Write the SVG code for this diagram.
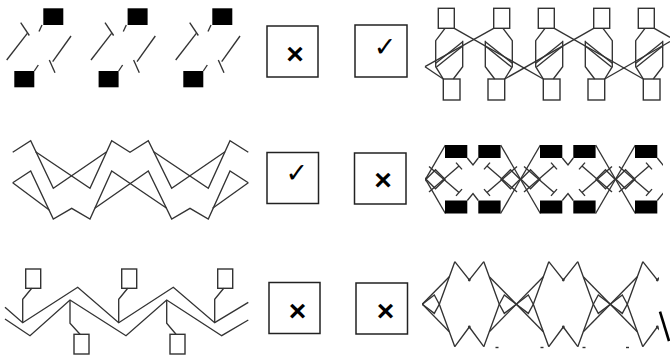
<svg xmlns="http://www.w3.org/2000/svg" xmlns:xlink="http://www.w3.org/1999/xlink" width="670" height="356" viewBox="0 0 670 356">
<style>
.ln{fill:none;stroke:#333;stroke-width:1.35;stroke-linejoin:miter}
.blk{fill:#000}
.sq{fill:#fff;stroke:#333;stroke-width:1.4}
.box{fill:#fff;stroke:#222;stroke-width:1.5}
.x{font-family:"Liberation Sans",Arial,sans-serif;font-weight:bold;font-size:30px;text-anchor:middle;fill:#000}
.ck{font-family:"DejaVu Sans",sans-serif;font-size:27px;text-anchor:middle;fill:#000}
</style>
<defs>
<clipPath id="cpMid"><rect x="425" y="130" width="238" height="100"/></clipPath>
<clipPath id="cpBot"><rect x="422" y="250" width="237" height="106"/></clipPath>
<g id="tlUnit">
<rect class="blk" x="43.3" y="8.3" width="20" height="16.7"/>
<rect class="blk" x="14.3" y="71" width="20" height="16.3"/>
<line class="ln" x1="42" y1="25" x2="39" y2="31.5"/>
<line class="ln" x1="34.3" y1="71" x2="38.3" y2="65"/>
<line class="ln" x1="6.7" y1="60" x2="27.3" y2="33.3"/>
<line class="ln" x1="20.7" y1="22.7" x2="29.3" y2="35.5"/>
<line class="ln" x1="71" y1="36" x2="52.7" y2="61.7"/>
<line class="ln" x1="49.3" y1="60" x2="55" y2="72.7"/>
</g>
<g id="trUnit">
<rect class="sq" x="438.3" y="8.3" width="16" height="20"/>
<rect class="sq" x="443.3" y="79" width="16.7" height="21"/>
<polyline class="ln" points="445,28.3 435.7,40.7 435.7,66.7 443.3,79"/>
<polyline class="ln" points="462.7,40.7 462.7,66.7 453.3,79"/>
<line class="ln" x1="435.7" y1="63.3" x2="462.7" y2="41.7"/>
<line class="ln" x1="436.5" y1="67" x2="462.7" y2="46"/>
</g>
<g id="midPair">
<rect class="blk" x="-28" y="145" width="22.3" height="13"/>
<rect class="blk" x="5.3" y="145" width="22.3" height="13"/>
<rect class="blk" x="-28" y="200.5" width="22.3" height="13"/>
<rect class="blk" x="5.3" y="200.5" width="22.3" height="13"/>
<polyline class="ln" points="-5.7,158 0,165 5.3,158"/>
<polyline class="ln" points="-5.7,200.5 0,193.5 5.3,200.5"/>
<line class="ln" x1="27.6" y1="145" x2="67.4" y2="213.5"/>
<line class="ln" x1="27.6" y1="213.5" x2="67.4" y2="145"/>
<polygon class="ln" points="-47,179.25 -37.5,169.75 -28,179.25 -37.5,188.75"/>
<polygon class="ln" points="47,179.25 37.5,169.75 28,179.25 37.5,188.75"/>
<line class="ln" x1="-14" y1="166" x2="-44" y2="192"/>
<line class="ln" x1="-14" y1="192.5" x2="-44" y2="166.5"/>
<line class="ln" x1="-17" y1="162.6" x2="-11" y2="169.4"/>
<line class="ln" x1="-17" y1="195.9" x2="-11" y2="189.1"/>
<line class="ln" x1="14" y1="166" x2="44" y2="192"/>
<line class="ln" x1="14" y1="192.5" x2="44" y2="166.5"/>
<line class="ln" x1="17" y1="162.6" x2="11" y2="169.4"/>
<line class="ln" x1="17" y1="195.9" x2="11" y2="189.1"/>
</g>
<g id="botUnit">
<polyline class="ln" points="-14.5,261.7 0,280 14.5,261.7"/>
<polyline class="ln" points="-14.5,346.7 0,327 14.5,346.7"/>
<polyline class="ln" points="14.5,261.7 30,304.2 14.5,346.7"/>
<polyline class="ln" points="-14.5,261.7 -30,304.2 -14.5,346.7"/>
<line class="ln" x1="20" y1="276.7" x2="74" y2="331.7"/>
<line class="ln" x1="20" y1="331.7" x2="74" y2="276.7"/>
<polygon class="ln" points="30,304.2 35,295 47,304.2 35,313.4"/>
<polygon class="ln" points="-30,304.2 -35,295 -47,304.2 -35,313.4"/>
<circle cx="0" cy="280" r="1.4" fill="#333"/>
<circle cx="0" cy="327" r="1.4" fill="#333"/>
</g>
</defs>

<g id="panel-top-left">
<use xlink:href="#tlUnit"/>
<use xlink:href="#tlUnit" transform="translate(84.3,0)"/>
<use xlink:href="#tlUnit" transform="translate(169,0)"/>
</g>

<g id="panel-top-right">
<use xlink:href="#trUnit"/>
<use xlink:href="#trUnit" transform="translate(948,0) scale(-1,1)"/>
<use xlink:href="#trUnit" transform="translate(100,0)"/>
<use xlink:href="#trUnit" transform="translate(1048,0) scale(-1,1)"/>
<use xlink:href="#trUnit" transform="translate(200,0)"/>
</g>

<g id="connectors">
<line class="ln" x1="425" y1="66.7" x2="493.7" y2="28.3"/>
<line class="ln" x1="425" y1="66.7" x2="443.3" y2="79"/>
<line class="ln" x1="454.3" y1="28.3" x2="543.3" y2="79"/>
<line class="ln" x1="504.7" y1="79" x2="593.7" y2="28.3"/>
<line class="ln" x1="554.3" y1="28.3" x2="643.3" y2="79"/>
<line class="ln" x1="604.7" y1="79" x2="670" y2="41.5"/>
<line class="ln" x1="654.3" y1="28.3" x2="670" y2="37.3"/>
</g>

<g id="panel-mid-left">
<path class="ln" d="M12.7,152.3 L30.7,140.7 L53.3,188.3 L106.7,151.7"/>
<path class="ln" d="M35.6,151.7 L90,188.3 L111.7,140.7 L130,152.3 L148.3,140.7 L171.7,188.3 L225,151.7"/>
<path class="ln" d="M153.7,151.7 L208.3,188.3 L230,140.7 L248.3,152.3"/>
<path class="ln" d="M12.7,182.7 L30.7,171 L53.3,219 L71.7,208.3 L90,219 L111.7,171 L166.7,208.3"/>
<path class="ln" d="M12.7,182.7 L49.2,210"/>
<path class="ln" d="M94.8,208.3 L148.3,171 L171.7,219 L190,208.3 L208.3,219 L230,171 L248.3,182.7"/>
<path class="ln" d="M212.6,208.3 L248.3,182.7"/>
</g>

<g id="panel-mid-right" clip-path="url(#cpMid)">
<use xlink:href="#midPair" transform="translate(378,0)"/>
<use xlink:href="#midPair" transform="translate(473,0)"/>
<use xlink:href="#midPair" transform="translate(568,0)"/>
<use xlink:href="#midPair" transform="translate(663,0)"/>
</g>

<g id="panel-bot-left">
<rect class="sq" x="25.7" y="269" width="15" height="19.3"/>
<rect class="sq" x="121.7" y="269" width="15" height="19.3"/>
<rect class="sq" x="217.7" y="269" width="15" height="19.3"/>
<rect class="sq" x="74" y="334.3" width="15" height="19.7"/>
<rect class="sq" x="170" y="334.3" width="15" height="19.7"/>
<polyline class="ln" points="31.7,288.3 22.7,299.3 22.7,322.7"/>
<polyline class="ln" points="127.7,288.3 118.7,299.3 118.7,322.7"/>
<polyline class="ln" points="223.7,288.3 214.7,299.3 214.7,322.7"/>
<polyline class="ln" points="70,300 70,323.3 80,334.3"/>
<polyline class="ln" points="166.7,300 166.7,323.3 176,334.3"/>
<polyline class="ln" points="5,307.3 22.7,322.7 77.7,287.3 118.7,322.7 173.3,287.3 214.7,322.7 248.3,302.3"/>
<polyline class="ln" points="5,319 30,335.7 70,300 126,335.7 166.7,300 221.7,335.7 248.3,320"/>
</g>

<g id="panel-bot-right">
<g clip-path="url(#cpBot)">
<use xlink:href="#botUnit" transform="translate(375.3,0)"/>
<use xlink:href="#botUnit" transform="translate(469.3,0)"/>
<use xlink:href="#botUnit" transform="translate(563.3,0)"/>
<use xlink:href="#botUnit" transform="translate(657.3,0)"/>
</g>
<rect x="495.5" y="346.8" width="3" height="1.4" fill="#333"/>
<rect x="540.5" y="346.8" width="3" height="1.4" fill="#333"/>
<rect x="582.5" y="346.8" width="3" height="1.4" fill="#333"/>
<rect x="626" y="346.8" width="3" height="1.4" fill="#333"/>
<line x1="660" y1="311.7" x2="669" y2="341" stroke="#000" stroke-width="2.6"/>
</g>

<g id="box-r1-a"><rect class="box" x="267" y="26" width="51" height="51"/><text class="x" x="295" y="64">×</text></g>
<g id="box-r1-b"><rect class="box" x="355" y="25" width="52" height="52"/><text class="ck" x="385" y="56">✓</text></g>
<g id="box-r2-a"><rect class="box" x="267" y="152.5" width="51.5" height="51"/><text class="ck" x="296.7" y="182">✓</text></g>
<g id="box-r2-b"><rect class="box" x="354.5" y="153" width="51.5" height="51"/><text class="x" x="383" y="190">×</text></g>
<g id="box-r3-a"><rect class="box" x="269" y="282.5" width="51" height="51"/><text class="x" x="297.5" y="321">×</text></g>
<g id="box-r3-b"><rect class="box" x="356" y="283" width="51.5" height="51"/><text class="x" x="385.5" y="321">×</text></g>
</svg>
